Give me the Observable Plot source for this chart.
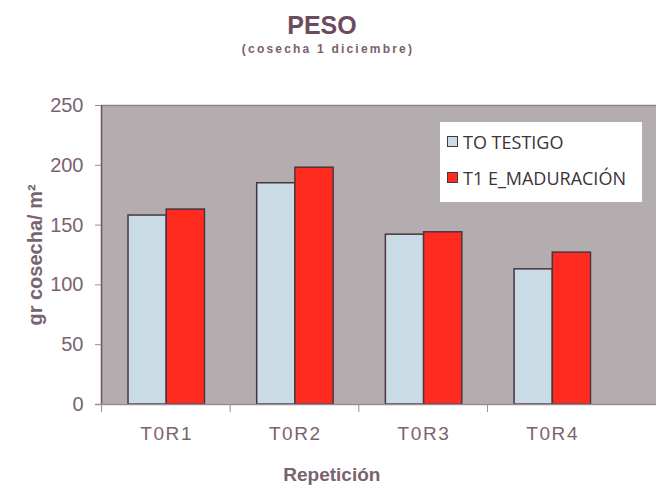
<!DOCTYPE html>
<html>
<head>
<meta charset="utf-8">
<script src="https://cdn.jsdelivr.net/npm/d3@7"></script>
<script src="https://cdn.jsdelivr.net/npm/@observablehq/plot@0.6"></script>
<style>
  body { margin: 0; background: #fff; }
  #wrap { position: relative; width: 656px; height: 493px; overflow: hidden; background: #fff; }
  #title { position: absolute; left: 0; width: 644px; top: 11px; text-align: center;
    font: bold 25px "Liberation Sans", Arial, sans-serif; color: #6b4c5e; }
  #subtitle { position: absolute; left: 0; width: 656px; top: 42px; text-align: center;
    font: bold 12px "Liberation Sans", Arial, sans-serif; color: #7a6070; letter-spacing: 2.2px; }
  #legend { position: absolute; left: 440px; top: 122px; width: 202px; height: 80px; background: #fff; }
  .item { position: absolute; left: 7px; font: 18px "Open Sans", sans-serif; color: #3b3338; white-space: nowrap; }
  .sw { display: inline-block; width: 9px; height: 9px; border: 1.5px solid #4b3442; margin-right: 5px; vertical-align: 2px; }
  svg [aria-label="y-axis label"] text { font-weight: bold; font-size: 20px; }
</style>
</head>
<body>
<div id="wrap">
  <div id="title">PESO</div>
  <div id="subtitle">(cosecha 1 diciembre)</div>
  <div id="chart"></div>
  <div id="legend"></div>
</div>
<script>
const categories = ["T0R1", "T0R2", "T0R3", "T0R4"];
const series = ["TO TESTIGO", "T1 E_MADURACIÓN"];
const testigo = [158, 185, 142, 113];
const maduracion = [163, 198, 144, 127];
const yTicks = [0, 50, 100, 150, 200, 250];
const colors = ["#c9dbe5", "#ff2b1f"];

const values = [testigo, maduracion];
const data = categories.flatMap((c, i) => values.map((vals, s) => ({cat: c, i, s, v: vals[i]})));

const chart = Plot.plot({
  width: 656,
  height: 493,
  marginTop: 105,
  marginBottom: 89,
  marginLeft: 101,
  marginRight: 0,
  style: {fontFamily: "'Liberation Sans', Arial, sans-serif", color: "#7a6370", background: "transparent"},
  x: {domain: [0, 4.313], axis: null},
  y: {domain: [0, 250], axis: null},
  marks: [
    Plot.frame({fill: "#b3adaf", stroke: "none"}),
    Plot.ruleY([250], {stroke: "#8d8488", strokeWidth: 1.5}),
    Plot.rectY(data, {
      x1: d => d.i + 0.21 + d.s * 0.297,
      x2: d => d.i + 0.507 + d.s * 0.297,
      y1: 0, y2: "v",
      fill: d => colors[d.s],
      stroke: "#4b3442",
      strokeWidth: 1.5
    }),
    Plot.ruleX([0], {stroke: "#6d5266", strokeWidth: 1.5}),
    Plot.ruleY([0], {stroke: "#9a8c94", strokeWidth: 1.5, insetLeft: -6}),
    Plot.axisY({ticks: yTicks, tickSize: 6, tickPadding: 12, fontSize: 20, stroke: "#9a8c94",
      label: "gr cosecha/ m²", labelAnchor: "center", labelArrow: "none", labelOffset: 74}),
    Plot.axisX({ticks: [0, 1, 2, 3], tickSize: 8, tickFormat: () => "", stroke: "#9a8c94"}),
    Plot.axisX({ticks: categories.map((c, i) => i + 0.5), tickSize: 0, tickPadding: 22, fontSize: 19,
      tickFormat: d => categories[Math.floor(d)].split("").join("\u200A"), label: null}),
    Plot.text(["Repetición"], {frameAnchor: "bottom", x: 1.79, dy: 76, fontSize: 19, fontWeight: "bold", fill: "#7a6370"})
  ]
});
document.getElementById("chart").appendChild(chart);

const legend = document.getElementById("legend");
series.forEach((name, s) => {
  const it = document.createElement("div");
  it.className = "item";
  it.style.top = (8 + s * 36) + "px";
  it.innerHTML = `<span class="sw" style="background:${colors[s]}"></span>${name}`;
  legend.appendChild(it);
});
</script>
</body>
</html>
